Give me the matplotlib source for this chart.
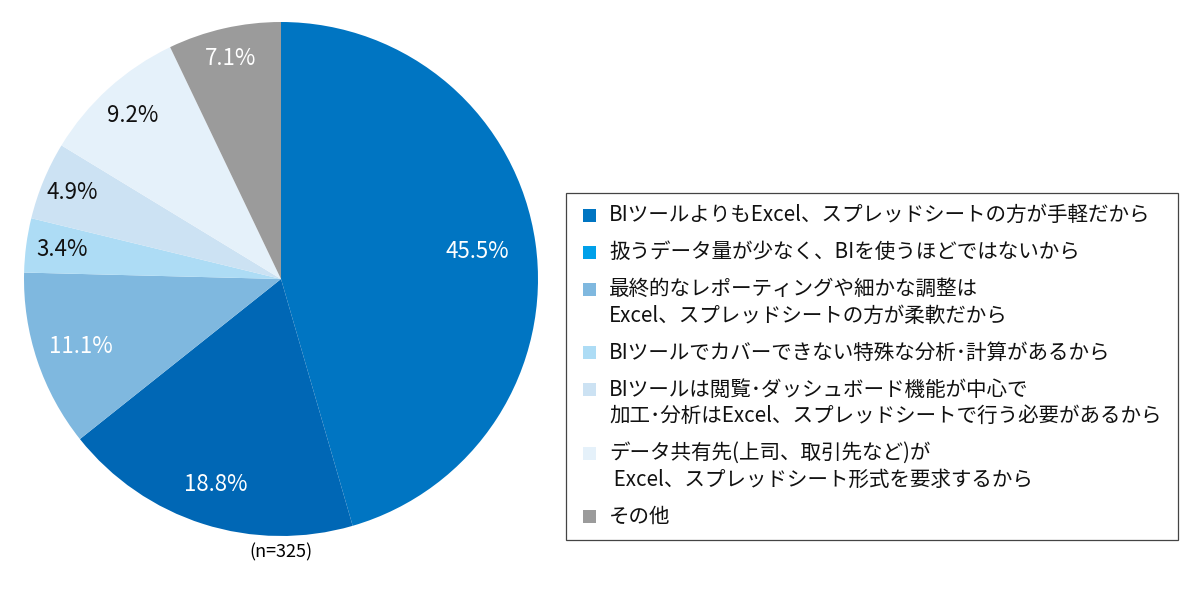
import numpy as np
import matplotlib.pyplot as plt
from matplotlib.patches import Rectangle

plt.rcParams['font.family'] = ['Noto Sans CJK JP', 'DejaVu Sans']

# data
labels = [
    'BIツールよりもExcel、スプレッドシートの方が手軽だから',
    '扱うデータ量が少なく、BIを使うほどではないから',
    '最終的なレポーティングや細かな調整は\nExcel、スプレッドシートの方が柔軟だから',
    'BIツールでカバーできない特殊な分析･計算があるから',
    'BIツールは閲覧･ダッシュボード機能が中心で\n加工･分析はExcel、スプレッドシートで行う必要があるから',
    'データ共有先(上司、取引先など)が\n Excel、スプレッドシート形式を要求するから',
    'その他',
]
values = [45.5, 18.8, 11.1, 3.4, 4.9, 9.2, 7.1]
n_total = 325

# styles
pie_colors = ['#0075c2', '#0067b5', '#7fb8df', '#addcf5', '#cce2f3', '#e5f1fa', '#9b9b9b']
legend_colors = ['#0075c2', '#00a0e9', '#7fb8df', '#addcf5', '#cce2f3', '#e5f1fa', '#9b9b9b']
text_colors = ['white', 'white', 'white', '#111111', '#111111', '#111111', 'white']
label_r = [0.77, 0.84, 0.82, 0.86, 0.88, 0.86, 0.88]

W, H = 1200, 593
fig = plt.figure(figsize=(12, 5.93), dpi=100)

cx, cy, r = 281, 279, 257
ax = fig.add_axes([(cx - r) / W, (H - cy - r) / H, 2 * r / W, 2 * r / H])
wedges, _ = ax.pie(values, colors=pie_colors, startangle=90, counterclock=False,
                   radius=1, wedgeprops=dict(linewidth=0))
ax.set_xlim(-1, 1)
ax.set_ylim(-1, 1)
ax.set_aspect('equal')
ax.axis('off')

for w, v, c, d in zip(wedges, values, text_colors, label_r):
    ang = np.deg2rad((w.theta1 + w.theta2) / 2)
    ax.text(d * np.cos(ang), d * np.sin(ang), f'{v}%', color=c,
            ha='center', va='center', fontsize=16)

fig.text(cx / W, 1 - 552 / H, f'(n={n_total})', ha='center', va='center', fontsize=13)

# legend box drawn by hand so markers line up with the first line
box_l, box_t, box_r, box_b = 566, 193, 1178, 540
fig.patches.append(Rectangle((box_l / W, 1 - box_b / H), (box_r - box_l) / W,
                             (box_b - box_t) / H, transform=fig.transFigure,
                             fill=False, edgecolor='#444444', linewidth=0.9))

y = 215
line_step = 26.5
gap = 10.5
for lab, col in zip(labels, legend_colors):
    fig.patches.append(Rectangle((583 / W, 1 - (y + 6.5) / H), 13 / W, 13 / H,
                                 transform=fig.transFigure, facecolor=col,
                                 edgecolor='none'))
    for i, line in enumerate(lab.split('\n')):
        fig.text(609 / W, 1 - (y + i * line_step) / H, line, ha='left',
                 va='center', fontsize=14.8, color='#111111')
    y += len(lab.split('\n')) * line_step + gap

fig.savefig('out.png', dpi=100, facecolor='white')
